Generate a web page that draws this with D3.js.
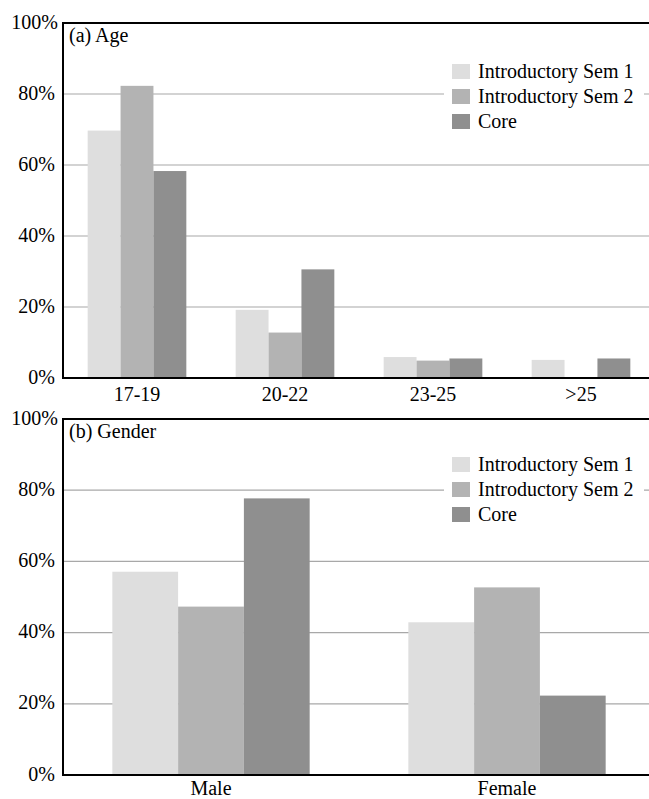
<!DOCTYPE html>
<html>
<head>
<meta charset="utf-8">
<script src="https://cdn.jsdelivr.net/npm/d3@7"></script>
<style>
  html, body { margin: 0; padding: 0; background: #fff; }
  svg { display: block; }
</style>
</head>
<body>
<div id="chart"></div>
<script>
// ---- data ----
const seriesNames = ["Introductory Sem 1", "Introductory Sem 2", "Core"];
const seriesColors = ["#dedede", "#b3b3b3", "#8f8f8f"];

const ageCategories = ["17-19", "20-22", "23-25", ">25"];
const ageSem1 = [69.7, 19.2, 5.9, 5.1];
const ageSem2 = [82.3, 12.8, 4.9, 0];
const ageCore = [58.3, 30.6, 5.5, 5.5];

const genderCategories = ["Male", "Female"];
const genderSem1 = [57.1, 42.9];
const genderSem2 = [47.3, 52.7];
const genderCore = [77.7, 22.3];

const yTicks = [0, 20, 40, 60, 80, 100];
const yTickLabels = ["0%", "20%", "40%", "60%", "80%", "100%"];

// ---- pick an installed serif font ----
function fontAvailable(name) {
  const c = document.createElement("canvas").getContext("2d");
  const s = "Introductory Sem 1 mmmwwwlli 0123%";
  const bases = ["monospace", "sans-serif"];
  return bases.some(b => {
    c.font = `40px ${b}`;
    const w0 = c.measureText(s).width;
    c.font = `40px "${name}", ${b}`;
    return Math.abs(c.measureText(s).width - w0) > 0.5;
  });
}
const serifCandidates = ["Liberation Serif", "Times New Roman", "Tinos", "Nimbus Roman", "Nimbus Roman No9 L",
  "DejaVu Serif", "Noto Serif", "FreeSerif", "Noto Serif CJK SC", "Noto Serif CJK JP", "Times"];
const chosen = serifCandidates.find(fontAvailable);
const FONT = chosen ? `"${chosen}", serif` : "serif";

// ---- layout ----
const W = 649, H = 799;
const svg = d3.select("#chart").append("svg").attr("width", W).attr("height", H)
  .attr("font-family", FONT);

const panels = [
  { title: "(a) Age", cats: ageCategories, values: [ageSem1, ageSem2, ageCore], top: 23, bottom: 378, legendTop: 64, xLabelY: 23 },
  { title: "(b) Gender", cats: genderCategories, values: [genderSem1, genderSem2, genderCore], top: 419, bottom: 775, legendTop: 457, xLabelY: 20 }
];

const left = 63, right = 655;

panels.forEach(p => {
  const g = svg.append("g");
  const x0 = d3.scaleBand().domain(p.cats).range([left, right]).paddingInner(0).paddingOuter(0);
  const x1 = d3.scaleBand().domain(seriesNames).range([0, x0.bandwidth()]).paddingInner(0).paddingOuter(0.75);
  const y = d3.scaleLinear().domain([0, 100]).range([p.bottom, p.top]);

  // gridlines
  g.append("g").selectAll("line").data(yTicks.filter(t => t > 0 && t < 100)).join("line")
    .attr("x1", left).attr("x2", W)
    .attr("y1", d => y(d)).attr("y2", d => y(d))
    .attr("stroke", "#a8a8a8").attr("stroke-width", 1.2);

  // bars
  const rows = p.cats.map((c, i) => ({ cat: c, vals: seriesNames.map((s, k) => ({ s, k, v: p.values[k][i] })) }));
  g.append("g").selectAll("g").data(rows).join("g")
    .attr("transform", d => `translate(${x0(d.cat)},0)`)
    .selectAll("rect").data(d => d.vals.filter(v => v.v > 0)).join("rect")
    .attr("x", d => x1(d.s))
    .attr("width", x1.bandwidth())
    .attr("y", d => y(d.v))
    .attr("height", d => y(0) - y(d.v))
    .attr("fill", d => seriesColors[d.k]);

  // legend (white box hides gridlines)
  const lg = g.append("g");
  lg.append("rect").attr("x", 444).attr("y", p.legendTop - 8).attr("width", 200).attr("height", 80).attr("fill", "#fff");
  seriesNames.forEach((s, k) => {
    const yy = p.legendTop + k * 25;
    lg.append("rect").attr("x", 452).attr("y", yy).attr("width", 18).attr("height", 15).attr("fill", seriesColors[k]);
    lg.append("text").attr("x", 478).attr("y", yy + 13.5).attr("font-size", 20).attr("fill", "#000").text(s);
  });

  // y axis labels
  const yAxis = d3.axisLeft(y).tickValues(yTicks).tickSize(0).tickPadding(8)
    .tickFormat((d, i) => yTickLabels[i]);
  const ya = g.append("g").attr("transform", `translate(${left},0)`).call(yAxis);
  ya.attr("font-family", FONT);
  ya.select(".domain").remove();
  ya.selectAll("text").attr("font-size", 20).attr("fill", "#000").attr("dy", "0.25em")
    .attr("dx", d => d === 100 ? 3 : 0);

  // x axis labels
  const xAxis = d3.axisBottom(x0).tickSize(0).tickPadding(0);
  const xa = g.append("g").attr("transform", `translate(0,${p.bottom})`).call(xAxis);
  xa.attr("font-family", FONT);
  xa.select(".domain").remove();
  xa.selectAll("text").attr("font-size", 20).attr("fill", "#000").attr("dy", 0).attr("y", p.xLabelY);

  // frame
  g.append("line").attr("x1", left).attr("x2", left).attr("y1", p.top).attr("y2", p.bottom + 1).attr("stroke", "#000").attr("stroke-width", 2);
  g.append("line").attr("x1", left - 1).attr("x2", W).attr("y1", p.top).attr("y2", p.top).attr("stroke", "#000").attr("stroke-width", 2);
  g.append("line").attr("x1", left - 1).attr("x2", W).attr("y1", p.bottom).attr("y2", p.bottom).attr("stroke", "#000").attr("stroke-width", 2);

  // panel title
  g.append("text").attr("x", 69).attr("y", p.top + 18.5).attr("font-size", 20).attr("fill", "#000").text(p.title);
});
</script>
</body>
</html>
